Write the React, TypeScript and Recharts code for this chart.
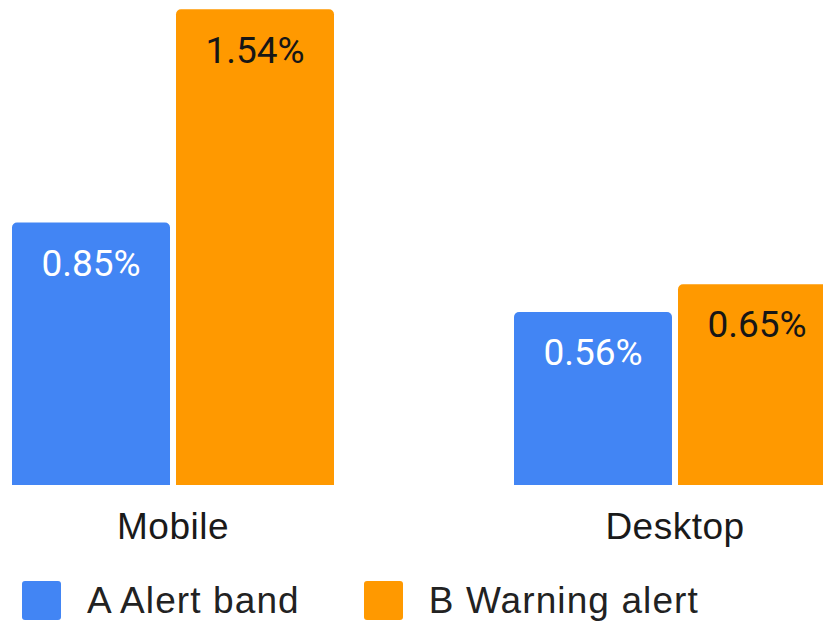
import React from 'react';
import { BarChart, Bar, XAxis, YAxis, LabelList } from 'recharts';

const categories = ['Mobile', 'Desktop'];
const alertBand = [0.85, 0.56];
const warningAlert = [1.54, 0.65];
const seriesNames = ['A Alert band', 'B Warning alert'];
const seriesColors = ['#4285F4', '#FF9900'];
const labelColors = ['#ffffff', '#161616'];

const data = categories.map((name, i) => ({
  name,
  a: alertBand[i],
  b: warningAlert[i],
}));

const series = [
  { key: 'a', name: seriesNames[0], color: seriesColors[0], label: labelColors[0] },
  { key: 'b', name: seriesNames[1], color: seriesColors[1], label: labelColors[1] },
];

const textFont = '"Liberation Sans", Arial, sans-serif';
const labelFont = 'Roboto, "Noto Sans", sans-serif';

const LegendRow: React.FC = () => (
  <div style={{ position: 'absolute', left: 22, top: 581, display: 'flex', alignItems: 'center' }}>
    {series.map((s, i) => (
      <div key={s.key} style={{ display: 'flex', alignItems: 'center', marginRight: i === 0 ? 64 : 0 }}>
        <div style={{ width: 39, height: 39, background: s.color, borderRadius: 3 }} />
        <span
          style={{
            marginLeft: 26,
            fontFamily: textFont,
            fontSize: 37,
            letterSpacing: 1.1,
            color: '#222',
            lineHeight: '39px',
            whiteSpace: 'nowrap',
          }}
        >
          {s.name}
        </span>
      </div>
    ))}
  </div>
);

export default function App() {
  return (
    <div style={{ position: 'fixed', left: 0, top: 0, width: 823, height: 623, overflow: 'hidden', background: '#fff' }}>
      <div style={{ position: 'absolute', left: -78, top: 0 }}>
        <BarChart
          width={1004}
          height={623}
          data={data}
          margin={{ top: 0, right: 0, bottom: 0, left: 0 }}
          barGap={6}
          barSize={158}
        >
          <XAxis
            dataKey="name"
            axisLine={false}
            tickLine={false}
            tickSize={0}
            tickMargin={28}
            height={138}
            tick={{ fill: '#1a1a1a', fontSize: 37, fontFamily: textFont, letterSpacing: 0.5 }}
          />
          <YAxis hide domain={[0, 1.57]} />
          {series.map((s) => (
            <Bar
              key={s.key}
              dataKey={s.key}
              name={s.name}
              fill={s.color}
              radius={[5, 5, 0, 0]}
              isAnimationActive={false}
            >
              <LabelList
                dataKey={s.key}
                position="insideTop"
                offset={27}
                formatter={(v: number) => `${v}%`}
                fill={s.label}
                style={{ fontSize: 37, fontFamily: labelFont }}
              />
            </Bar>
          ))}
        </BarChart>
      </div>
      <LegendRow />
    </div>
  );
}
